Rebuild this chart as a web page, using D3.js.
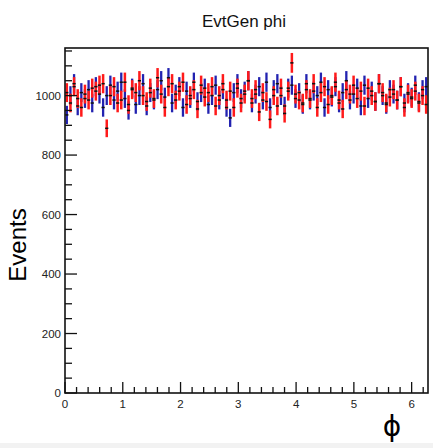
<!DOCTYPE html>
<html><head><meta charset="utf-8">
<script src="https://cdn.jsdelivr.net/npm/d3@7"></script>
<style>body{margin:0;background:#fff;} svg{display:block;}</style>
</head><body>
<svg id="c" width="433" height="448"></svg>
<script>
const title = "EvtGen phi";
const xLabel = "ϕ";
const yLabel = "Events";
const xTicks = [0, 1, 2, 3, 4, 5, 6];
const yTicks = [0, 200, 400, 600, 800, 1000];
const nBins = 100;
const blueCounts = [
 935, 1000, 1040, 965, 1010, 990, 1020, 975, 1030, 1005,
 960, 1000, 1035, 985, 1015, 1045, 990, 950, 1025, 970,
 1000, 1040, 965, 1010, 985, 1020, 1050, 995, 1060, 975,
 1005, 1030, 960, 1015, 990, 1045, 980, 1010, 1025, 970,
 1000, 1035, 985, 1020, 960, 925, 1010, 1040, 990, 1015,
 1050, 975, 1005, 1030, 985, 1045, 960, 1020, 1040, 1000,
 965, 1025, 1035, 990, 1010, 970, 1040, 985, 1015, 1000,
 1045, 960, 1020, 995, 1030, 975, 1010, 1050, 985, 1005,
 1025, 965, 1035, 990, 1015, 980, 1040, 1000, 970, 1020,
 1005, 985, 1030, 975, 1010, 995, 1035, 980, 1020, 1030
];
const redCounts = [
 1010, 975, 1030, 990, 960, 1005, 985, 1025, 1015, 1035,
 1040, 890, 1000, 1030, 975, 985, 1045, 970, 1020, 1010,
 1050, 1000, 980, 1025, 990, 1060, 1005, 960, 1030, 1040,
 985, 1015, 1045, 970, 1000, 1020, 955, 1035, 995, 1010,
 1030, 965, 1000, 1040, 985, 1015, 960, 1025, 975, 1005,
 1050, 990, 1020, 945, 1010, 980, 920, 1000, 965, 1025,
 940, 1015, 1110, 1005, 985, 975, 1020, 990, 1040, 960,
 1010, 1030, 970, 1000, 1045, 985, 955, 1020, 1005, 1035,
 990, 1015, 965, 1025, 1000, 980, 1040, 1010, 975, 995,
 1020, 985, 1030, 960, 1005, 990, 1015, 975, 1000, 970
];

const svg = d3.select("#c");
const L = 65, R = 428, T = 48, B = 393;
const xMax = 2 * Math.PI;
const x = d3.scaleLinear().domain([0, xMax]).range([L, R]);
const y = d3.scaleLinear().domain([0, 1160]).range([B, T]);
const bw = xMax / nBins;

svg.append("rect").attr("x", 0).attr("y", 443).attr("width", 433).attr("height", 5).attr("fill", "#f2f2f2");

svg.append("text").attr("x", 244).attr("y", 27).attr("text-anchor", "middle")
  .attr("font-family", "Liberation Sans, Arial, sans-serif").attr("font-size", 17).attr("fill", "#111").text(title);

function drawSeries(counts, color, w) {
  const g = svg.append("g");
  counts.forEach((v, i) => {
    const xc = x((i + 0.5) * bw);
    const e = Math.sqrt(v);
    g.append("line").attr("x1", xc).attr("x2", xc).attr("y1", y(v - e)).attr("y2", y(v + e))
      .attr("stroke", color).attr("stroke-width", w);
  });
}
drawSeries(blueCounts, "#2222b0", 2.3);
drawSeries(redCounts, "#ff1a1a", 2.5);
function drawMarks(counts) {
  const g = svg.append("g");
  counts.forEach((v, i) => {
    g.append("line").attr("x1", x(i * bw) + 0.2).attr("x2", x((i + 1) * bw) - 0.2)
      .attr("y1", y(v)).attr("y2", y(v)).attr("stroke", "#111").attr("stroke-width", 1.5);
  });
}
drawMarks(blueCounts);
drawMarks(redCounts);

svg.append("rect").attr("x", L).attr("y", T).attr("width", R - L).attr("height", B - T)
  .attr("fill", "none").attr("stroke", "#111").attr("stroke-width", 1.6);

const xt = svg.append("g");
for (let k = 0; k <= 31; k++) {
  const v = k * 0.2;
  if (v > xMax) break;
  const major = k % 5 === 0;
  xt.append("line").attr("x1", x(v)).attr("x2", x(v)).attr("y1", B).attr("y2", B - (major ? 11 : 6))
    .attr("stroke", "#111").attr("stroke-width", 1.3);
}
xTicks.forEach(t => {
  xt.append("text").attr("x", x(t)).attr("y", 408).attr("text-anchor", "middle")
    .attr("font-family", "Liberation Sans, Arial, sans-serif").attr("font-size", 11.5).attr("fill", "#222").text(t);
});
const yt = svg.append("g");
for (let v = 0; v <= 1150; v += 50) {
  const major = v % 200 === 0;
  yt.append("line").attr("x1", L).attr("x2", L + (major ? 12 : 7)).attr("y1", y(v)).attr("y2", y(v))
    .attr("stroke", "#111").attr("stroke-width", 1.3);
}
yTicks.forEach(t => {
  yt.append("text").attr("x", 61).attr("y", y(t) + 4).attr("text-anchor", "end")
    .attr("font-family", "Liberation Sans, Arial, sans-serif").attr("font-size", 11.5).attr("fill", "#222").text(t);
});

svg.append("text").attr("transform", "translate(26,245) rotate(-90)").attr("text-anchor", "middle")
  .attr("font-family", "Liberation Sans, Arial, sans-serif").attr("font-size", 24).attr("fill", "#000").text(yLabel);
svg.append("text").attr("x", 392).attr("y", 436).attr("text-anchor", "middle")
  .attr("font-family", "DejaVu Sans, sans-serif").attr("font-size", 28).attr("fill", "#000").text(xLabel);
</script>
</body></html>
